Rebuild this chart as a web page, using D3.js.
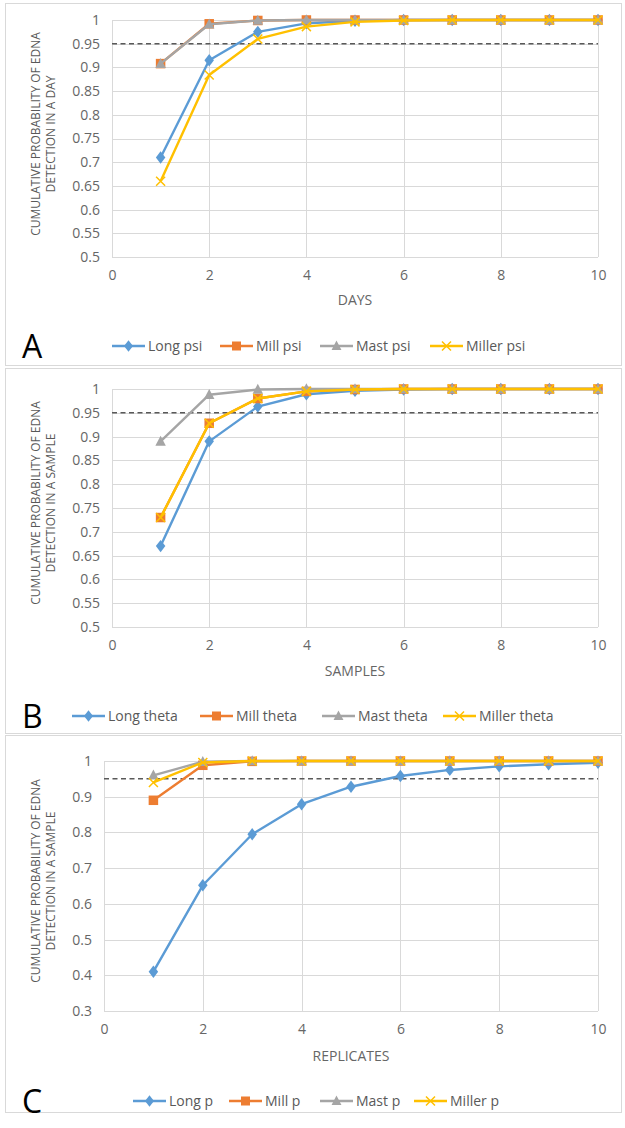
<!DOCTYPE html>
<html><head><meta charset="utf-8">
<script src="https://cdn.jsdelivr.net/npm/d3@7"></script>
<style>body{margin:0;background:#fff}svg{display:block}</style>
</head><body>
<script>
const xTicks = [0,2,4,6,8,10];
const steps = [1,2,3,4,5,6,7,8,9,10];

const longPsi   = [0.71,0.915,0.975,0.993,0.998,1,1,1,1,1];
const millPsi   = [0.908,0.992,0.999,1,1,1,1,1,1,1];
const mastPsi   = [0.908,0.991,0.999,1,1,1,1,1,1,1];
const millerPsi = [0.66,0.884,0.96,0.986,0.996,0.999,1,1,1,1];

const longTheta   = [0.67,0.89,0.963,0.989,0.996,0.999,1,1,1,1];
const millTheta   = [0.73,0.928,0.98,0.995,0.999,1,1,1,1,1];
const mastTheta   = [0.89,0.988,0.999,1,1,1,1,1,1,1];
const millerTheta = [0.73,0.928,0.98,0.995,0.999,1,1,1,1,1];

const longP   = [0.41,0.652,0.795,0.879,0.928,0.958,0.975,0.985,0.991,0.995];
const millP   = [0.89,0.988,0.999,1,1,1,1,1,1,1];
const mastP   = [0.96,0.998,1,1,1,1,1,1,1,1];
const millerP = [0.94,0.996,1,1,1,1,1,1,1,1];

const yTicksAB = [0.5,0.55,0.6,0.65,0.7,0.75,0.8,0.85,0.9,0.95,1];
const yTicksC  = [0.3,0.4,0.5,0.6,0.7,0.8,0.9,1];
const threshold = 0.95;

const colors = ["#5B9BD5","#ED7D31","#A5A5A5","#FFC000"];
const shapes = ["diamond","square","triangle","x"];
const FONT = "'Open Sans',sans-serif";

const W = 625, H = 1128;
const svg = d3.select("body").append("svg").attr("width",W).attr("height",H);

function marker(g, shape, color, x, y, s){
  if(shape==="diamond"){
    g.append("path").attr("d",`M${x},${y-s*0.65}L${x+s*0.5},${y}L${x},${y+s*0.65}L${x-s*0.5},${y}Z`).attr("fill",color);
  } else if(shape==="square"){
    g.append("rect").attr("x",x-s/2).attr("y",y-s/2).attr("width",s).attr("height",s).attr("fill",color);
  } else if(shape==="triangle"){
    g.append("path").attr("d",`M${x},${y-s*0.6}L${x+s*0.55},${y+s*0.45}L${x-s*0.55},${y+s*0.45}Z`).attr("fill",color);
  } else {
    const h=s*0.45;
    g.append("path").attr("d",`M${x-h},${y-h}L${x+h},${y+h}M${x-h},${y+h}L${x+h},${y-h}`).attr("stroke",color).attr("stroke-width",1.5).attr("fill","none");
  }
}

function panel(cfg){
  const g = svg.append("g");
  g.append("rect").attr("x",5.5).attr("y",cfg.box[0]+0.5).attr("width",616).attr("height",cfg.box[1]-cfg.box[0])
    .attr("fill","#fff").attr("stroke","#d9d9d9").attr("stroke-width",1);
  const x = d3.scaleLinear().domain([0,10]).range([cfg.x0,cfg.x1]);
  const y = d3.scaleLinear().domain(cfg.ydom).range([cfg.yb,cfg.yt]);
  g.append("g").selectAll("line.h").data(cfg.yticks).join("line")
    .attr("x1",x(0)).attr("x2",x(10)).attr("y1",d=>Math.round(y(d))+0.5).attr("y2",d=>Math.round(y(d))+0.5)
    .attr("stroke","#d9d9d9").attr("stroke-width",1);
  g.append("g").selectAll("line.v").data(xTicks).join("line")
    .attr("y1",y(cfg.ydom[0])).attr("y2",y(cfg.ydom[1])).attr("x1",d=>Math.round(x(d))+0.5).attr("x2",d=>Math.round(x(d))+0.5)
    .attr("stroke","#d9d9d9").attr("stroke-width",1);
  const yAxis = d3.axisLeft(y).tickValues(cfg.yticks).tickSize(0).tickPadding(cfg.ypad).tickFormat(d=>d3.format("")(+d.toFixed(2)));
  const ya = g.append("g").attr("transform",`translate(${x(0)},0)`).call(yAxis);
  ya.select(".domain").remove();
  ya.selectAll("text").attr("fill","#666").style("font-family",FONT).style("font-size","14px");
  const xAxis = d3.axisBottom(x).tickValues(xTicks).tickSize(0).tickPadding(cfg.xpad).tickFormat(d3.format("d"));
  const xa = g.append("g").attr("transform",`translate(0,${y(cfg.ydom[0])})`).call(xAxis);
  xa.select(".domain").remove();
  xa.selectAll("text").attr("fill","#666").style("font-family",FONT).style("font-size","14px");
  g.append("line").attr("x1",x(0)).attr("x2",x(10)).attr("y1",y(threshold)).attr("y2",y(threshold))
    .attr("stroke","#595959").attr("stroke-width",1.5).attr("stroke-dasharray","5,3.5");
  const line = d3.line().x((d,i)=>x(steps[i])).y(d=>y(d));
  cfg.series.forEach((s,k)=>{
    g.append("path").datum(s.values).attr("d",line).attr("fill","none").attr("stroke",colors[k]).attr("stroke-width",2.4).attr("stroke-linejoin","round");
    s.values.forEach((v,i)=>marker(g,shapes[k],colors[k],x(steps[i]),y(v),k===3?10:9.5));
  });
  g.append("text").attr("x",(x(0)+x(10))/2).attr("y",cfg.xtitleY).attr("text-anchor","middle")
    .attr("fill","#666").style("font-family",FONT).style("font-size","14px").text(cfg.xtitle);
  const ty = g.append("text").attr("transform",`translate(${cfg.ytitleX},${cfg.ytitleCY}) rotate(-90)`)
    .attr("text-anchor","middle").attr("fill","#595959").style("font-family",FONT).style("font-size","12px");
  ty.append("tspan").attr("x",0).attr("dy",0).text("CUMULATIVE PROBABILITY OF EDNA");
  ty.append("tspan").attr("x",0).attr("dy",15).text(cfg.ytitle2);
  g.append("text").attr("x",22).attr("y",cfg.legY+12).attr("fill","#000").style("font-family",FONT).style("font-size","32px").text(cfg.letter);
  cfg.series.forEach((s,k)=>{
    const lx = cfg.legX[k];
    g.append("line").attr("x1",lx).attr("x2",lx+33).attr("y1",cfg.legY).attr("y2",cfg.legY).attr("stroke",colors[k]).attr("stroke-width",2.4);
    marker(g,shapes[k],colors[k],lx+16.5,cfg.legY,k===3?10:9);
    g.append("text").attr("x",lx+36).attr("y",cfg.legY+5).attr("fill","#595959").style("font-family",FONT).style("font-size","14px").text(s.name);
  });
}

panel({box:[3,365],x0:112,x1:598,ydom:[0.5,1],yt:20,yb:257,yticks:yTicksAB,ypad:12,xpad:13,
  xtitle:"DAYS",xtitleY:305,ytitleX:40,ytitleCY:134,ytitle2:"DETECTION IN A DAY",letter:"A",legY:346,
  legX:[112,220,320,430],
  series:[{name:"Long psi",values:longPsi},{name:"Mill psi",values:millPsi},{name:"Mast psi",values:mastPsi},{name:"Miller psi",values:millerPsi}]});

panel({box:[368,733],x0:112,x1:598,ydom:[0.5,1],yt:389,yb:627,yticks:yTicksAB,ypad:12,xpad:13,
  xtitle:"SAMPLES",xtitleY:676,ytitleX:40,ytitleCY:503,ytitle2:"DETECTION IN A SAMPLE",letter:"B",legY:716,
  legX:[72,200,322,443],
  series:[{name:"Long theta",values:longTheta},{name:"Mill theta",values:millTheta},{name:"Mast theta",values:mastTheta},{name:"Miller theta",values:millerTheta}]});

panel({box:[735,1112],x0:104,x1:598,ydom:[0.3,1],yt:761,yb:1011,yticks:yTicksC,ypad:12,xpad:13,
  xtitle:"REPLICATES",xtitleY:1061,ytitleX:40,ytitleCY:881,ytitle2:"DETECTION IN A SAMPLE",letter:"C",legY:1101,
  legX:[133,229,320,414],
  series:[{name:"Long p",values:longP},{name:"Mill p",values:millP},{name:"Mast p",values:mastP},{name:"Miller p",values:millerP}]});
</script>
</body></html>
